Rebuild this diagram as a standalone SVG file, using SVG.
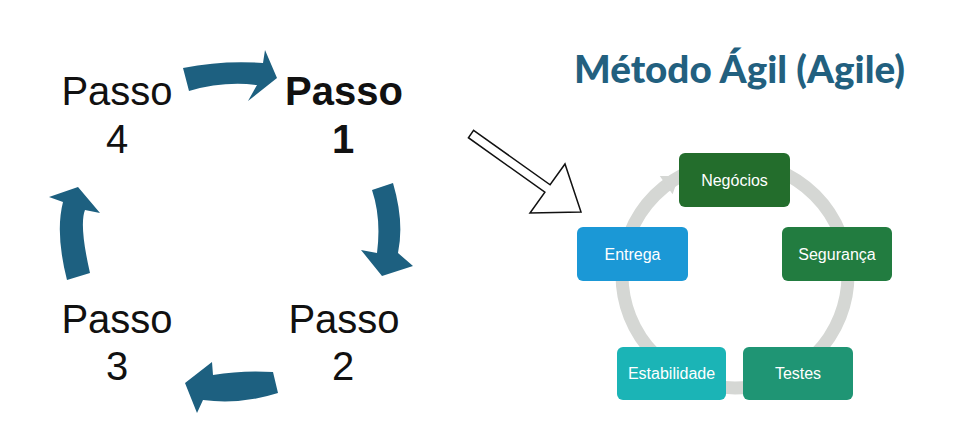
<svg xmlns="http://www.w3.org/2000/svg" width="973" height="440" viewBox="0 0 973 440">
<style>
.step{font-family:"Liberation Sans",Arial,sans-serif;font-size:40px;fill:#111;text-anchor:middle}
.bold{font-weight:bold}
.arrow{fill:#1d6080}
.box text{font-family:"Liberation Sans",Arial,sans-serif;font-size:16px;fill:#fff;text-anchor:middle}
.title{font-family:Lato,"Liberation Sans",sans-serif;font-size:38px;font-weight:900;fill:#22607f}
</style>
<rect width="973" height="440" fill="#fff"/>
<g id="cycle-connectors">
<path class="arrow" d="M183,68 Q223,60 263,63 L265,50 L277,78 L248,101 L257,85 Q223,81 189,91 Z"/>
<path class="arrow" d="M372,190 L393,183 Q404.5,222 398,253 L413,266 L382,276 L361,250 L377,253 Q381.5,218.5 372,190 Z"/>
<path class="arrow" d="M273,372 Q242,370 213,375 L212,362 L185,383 L197,413 L203,400 Q240,405 278,393 Z"/>
<path class="arrow" d="M90,273 Q79,225 85,210 L100,213 L78,187 L49,197 L63,202 Q55,233 67,280 Z"/>
</g>
<g id="passo1"><text class="step bold" x="344" y="105">Passo</text><text class="step bold" x="343" y="153">1</text></g>
<g id="passo2"><text class="step" x="344" y="333">Passo</text><text class="step" x="343" y="380">2</text></g>
<g id="passo3"><text class="step" x="117" y="333">Passo</text><text class="step" x="117" y="380">3</text></g>
<g id="passo4"><text class="step" x="117" y="105">Passo</text><text class="step" x="117" y="153">4</text></g>
<g id="link-arrow">
<polygon points="473.6,130.3 550.1,184.8 565,164 581,212 530,213 544.9,192.2 468.4,137.7" fill="#fff" stroke="#111" stroke-width="1.5" stroke-linejoin="miter"/>
</g>
<text id="title" class="title" x="574" y="83" textLength="331" lengthAdjust="spacingAndGlyphs">Método Ágil (Agile)</text>
<g id="agile-connectors">
<circle cx="735" cy="275" r="113" fill="none" stroke="#d5d7d4" stroke-width="13"/>
<polygon points="679,176 659.8,176.1 672.6,194.3" fill="#d5d7d4"/>
</g>
<g id="negocios" class="box"><rect x="679" y="153" width="111" height="54" rx="6" fill="#236d2c"/><text x="734.5" y="185.5">Negócios</text></g>
<g id="seguranca" class="box"><rect x="782" y="227" width="110" height="54" rx="6" fill="#227c40"/><text x="837" y="259.5">Segurança</text></g>
<g id="testes" class="box"><rect x="743" y="347" width="110" height="53" rx="6" fill="#1f9574"/><text x="798" y="379">Testes</text></g>
<g id="estabilidade" class="box"><rect x="617" y="347" width="109" height="53" rx="6" fill="#1bb4b6"/><text x="671.5" y="379">Estabilidade</text></g>
<g id="entrega" class="box"><rect x="577" y="227" width="111" height="54" rx="6" fill="#1b98d6"/><text x="632.5" y="259.5">Entrega</text></g>
</svg>
